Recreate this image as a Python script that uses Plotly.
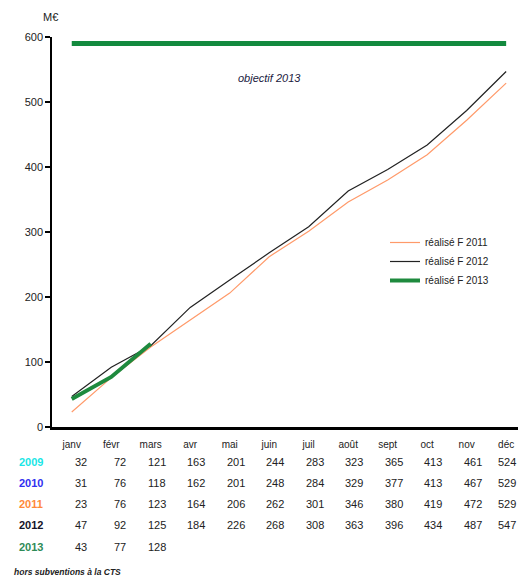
import plotly.graph_objects as go

months = ["janv", "févr", "mars", "avr", "mai", "juin", "juil", "août", "sept", "oct", "nov", "déc"]
v2009 = [32, 72, 121, 163, 201, 244, 283, 323, 365, 413, 461, 524]
v2010 = [31, 76, 118, 162, 201, 248, 284, 329, 377, 413, 467, 529]
v2011 = [23, 76, 123, 164, 206, 262, 301, 346, 380, 419, 472, 529]
v2012 = [47, 92, 125, 184, 226, 268, 308, 363, 396, 434, 487, 547]
v2013 = [43, 77, 128]
objective_2013 = 590
years = ["2009", "2010", "2011", "2012", "2013"]
year_colors = ["#19e6e6", "#3030f0", "#ff8a3a", "#141428", "#2e8b57"]
table_rows = [v2009, v2010, v2011, v2012, v2013]

FONT = "Liberation Sans, Arial, sans-serif"
xi = list(range(len(months)))

fig = go.Figure()
fig.add_trace(go.Scatter(x=xi, y=[objective_2013] * len(months), mode="lines",
                         line=dict(color="#138a3e", width=5), showlegend=False, hoverinfo="skip"))
fig.add_trace(go.Scatter(x=xi, y=v2011, mode="lines", name="réalisé F 2011",
                         line=dict(color="#ff9a6a", width=1.2)))
fig.add_trace(go.Scatter(x=xi, y=v2012, mode="lines", name="réalisé F 2012",
                         line=dict(color="#222222", width=1.2)))
fig.add_trace(go.Scatter(x=xi[:len(v2013)], y=v2013, mode="lines", name="réalisé F 2013",
                         line=dict(color="#1e8a3e", width=4)))

annotations = []
plot_left, plot_w = 52, 466
plot_top, plot_bot = 37, 427
def py(p):
    return (plot_bot - p) / (plot_bot - plot_top)
def px(p):
    return (p - plot_left) / plot_w

row_px = [462, 483, 504, 525, 547]
for r, (yr, col, vals) in enumerate(zip(years, year_colors, table_rows)):
    annotations.append(dict(x=px(31), xref="paper", y=py(row_px[r]), yref="paper", text="<b>%s</b>" % yr,
                            showarrow=False, xanchor="center", yanchor="middle",
                            font=dict(family=FONT, size=11, color=col)))
    for i, v in enumerate(vals):
        shift = 17 if i < len(months) - 1 else 12
        annotations.append(dict(x=i, xref="x", xshift=shift, y=py(row_px[r]), yref="paper", text=str(v),
                                showarrow=False, xanchor="right", yanchor="middle",
                                font=dict(family=FONT, size=11, color="#222222")))

annotations.append(dict(x=px(12), xref="paper", y=py(572), yref="paper",
                        text="<b><i>hors subventions à la CTS</i></b>", showarrow=False,
                        xanchor="left", yanchor="middle", font=dict(family=FONT, size=8.5, color="#222")))
annotations.append(dict(x=px(50), xref="paper", y=py(17), yref="paper", text="M€", showarrow=False,
                        xanchor="center", yanchor="middle", font=dict(family=FONT, size=11, color="#222")))
annotations.append(dict(x=5.0, xref="x", y=537, yref="y", text="<i>objectif 2013</i>", showarrow=False,
                        xanchor="center", yanchor="middle", font=dict(family=FONT, size=11, color="#1a1a40")))

fig.update_layout(
    width=518, height=579,
    margin=dict(l=plot_left, r=0, t=plot_top, b=579 - plot_bot),
    plot_bgcolor="white", paper_bgcolor="white",
    font=dict(family=FONT, size=11, color="#222"),
    showlegend=True,
    legend=dict(x=px(385), y=py(228), xanchor="left", yanchor="top", bgcolor="rgba(0,0,0,0)",
                font=dict(family=FONT, size=10, color="#222"), tracegroupgap=0, itemwidth=30),
    annotations=annotations,
    xaxis=dict(range=[-0.5, 11.3], tickmode="array", tickvals=xi, ticktext=months,
               showgrid=False, zeroline=False, showline=True, linecolor="black", linewidth=3,
               ticks="", ticklabelstandoff=6, tickfont=dict(family=FONT, size=10, color="#222")),
    yaxis=dict(range=[0, 600], tickvals=[0, 100, 200, 300, 400, 500, 600], showgrid=False, zeroline=False,
               showline=True, linecolor="black", linewidth=1.5, ticks="outside", ticklen=5,
               tickwidth=1.5, tickcolor="black", tickfont=dict(family=FONT, size=11, color="#222")),
    yaxis2=dict(range=[0, 600], overlaying="y", side="left", tickvals=[0, 100, 200, 300, 400, 500, 600],
                showgrid=False, zeroline=False, showline=False, ticks="inside", ticklen=4,
                tickwidth=1.5, tickcolor="black", showticklabels=False),
)
fig.write_html("out.html", config={"displayModeBar": False},
               post_script="document.body.style.margin='0';document.body.style.overflow='hidden';")
